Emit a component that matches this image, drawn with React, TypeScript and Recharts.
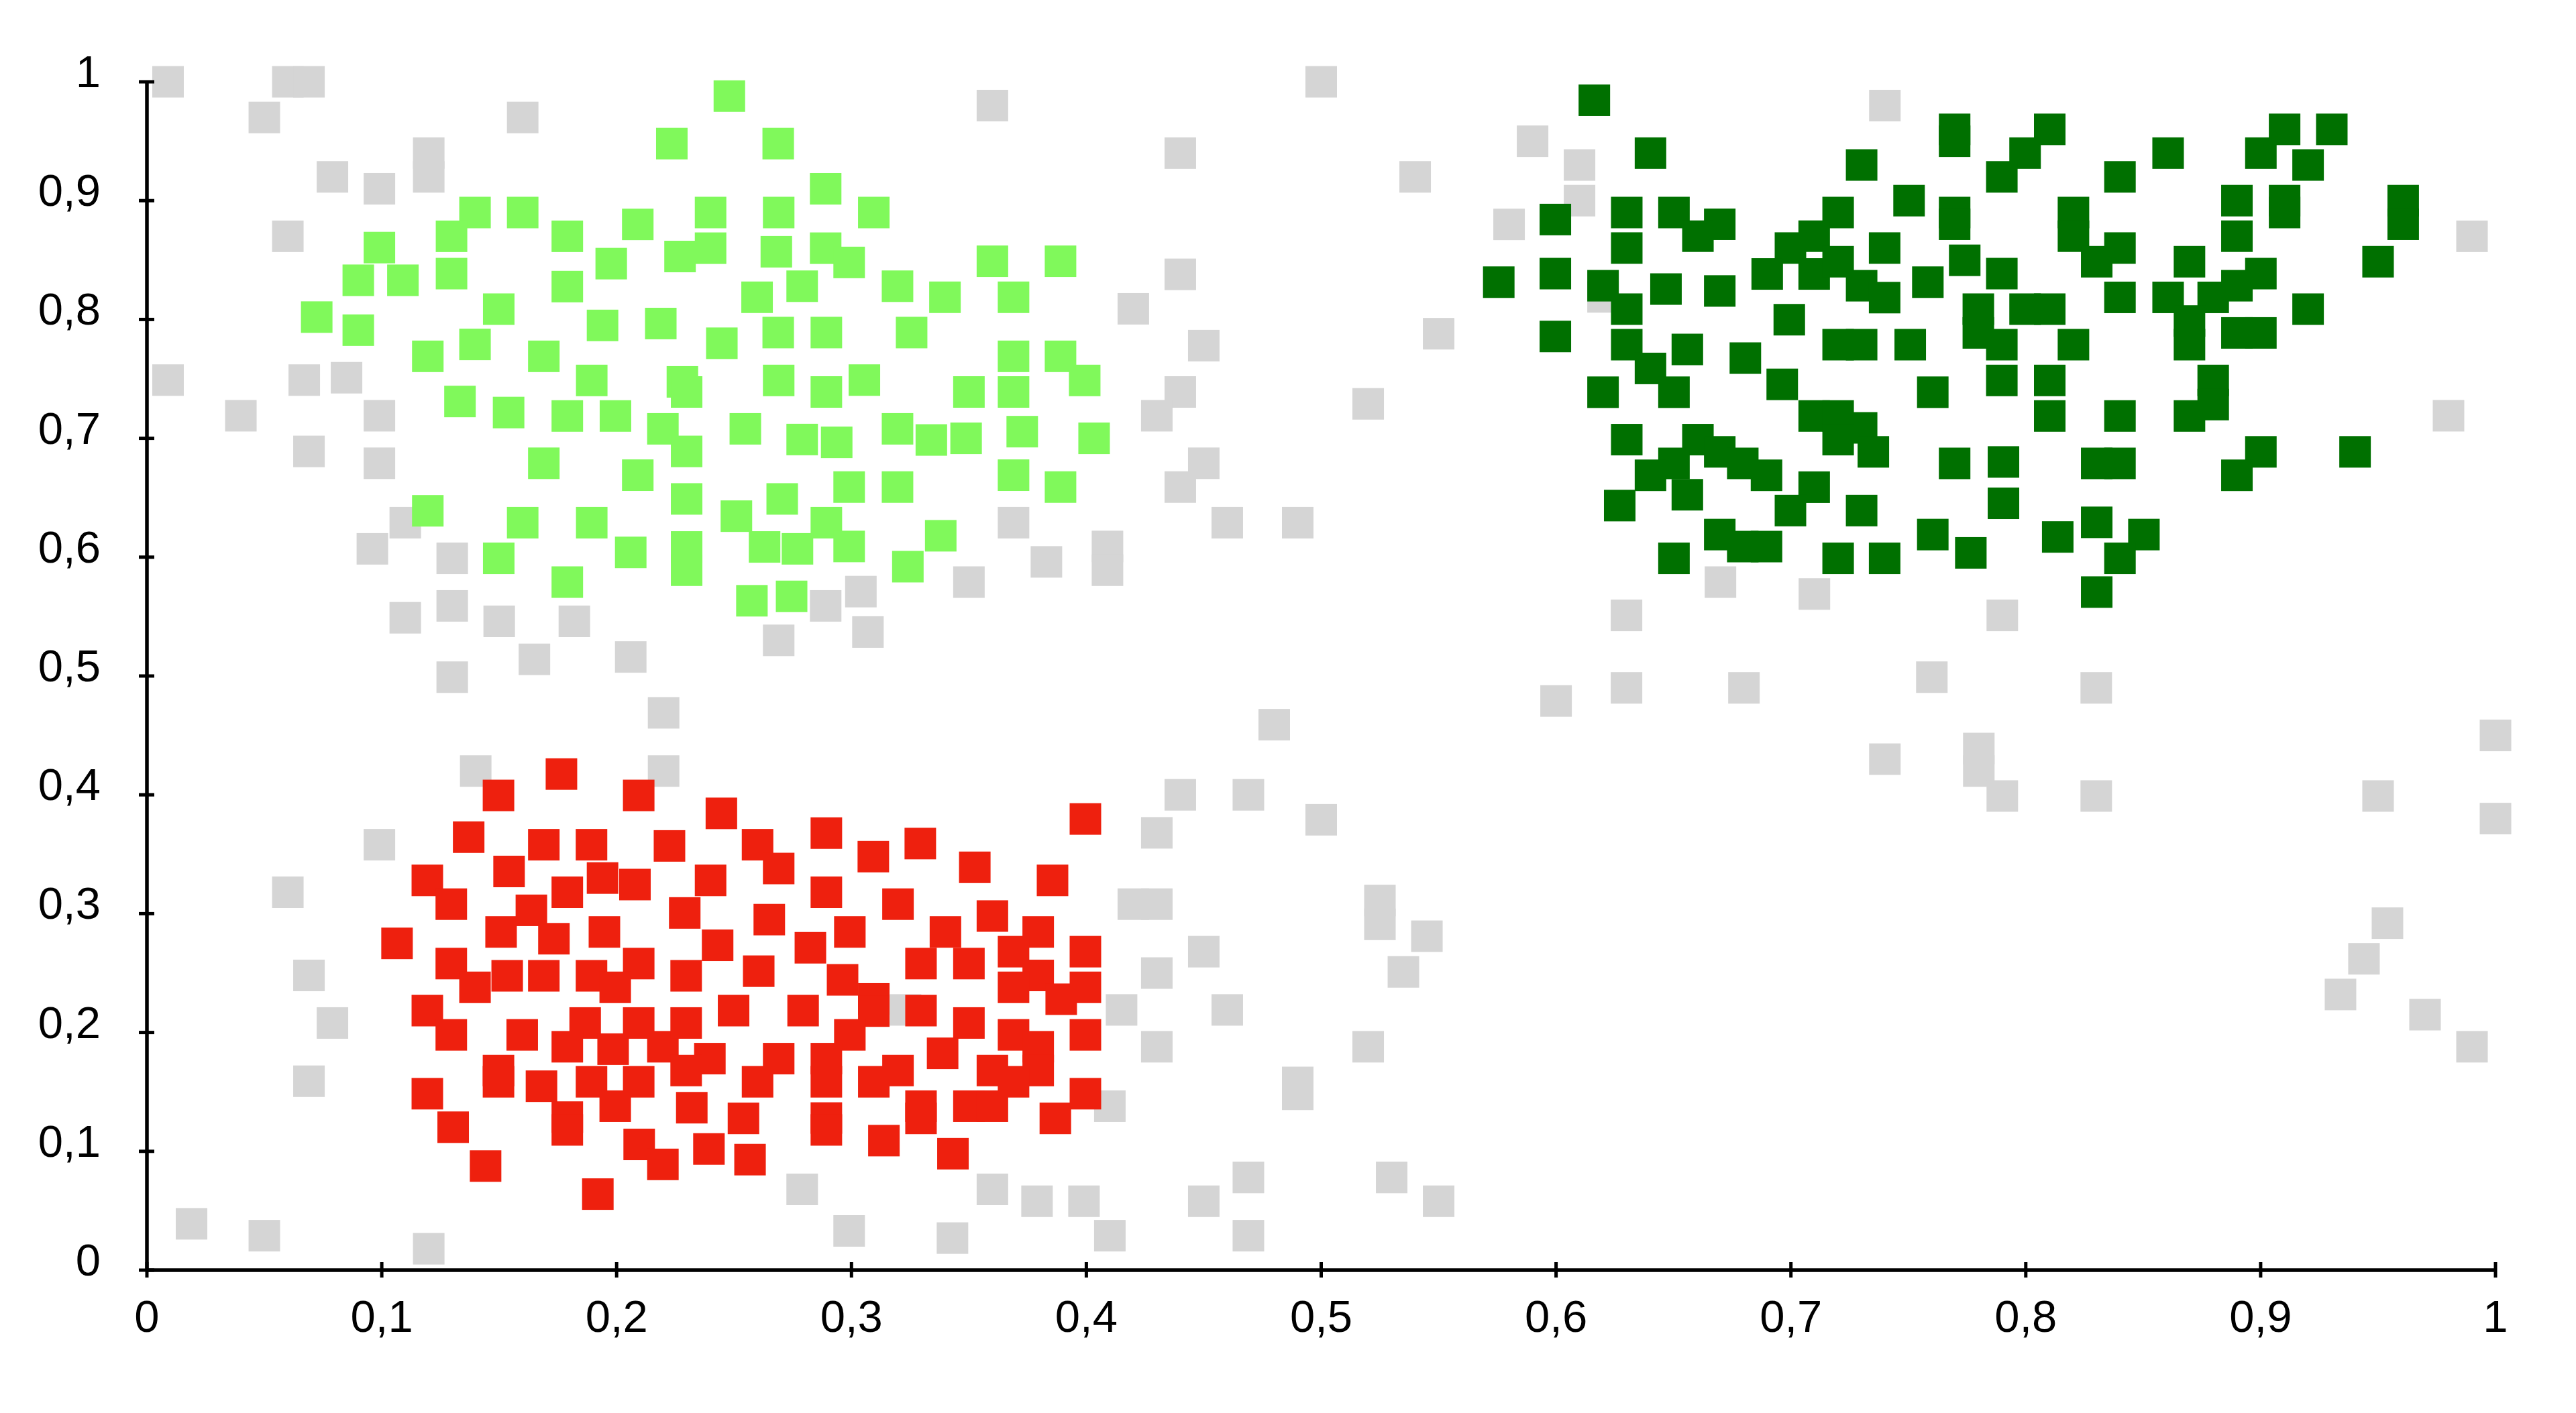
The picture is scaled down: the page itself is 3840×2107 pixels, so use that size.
import React from "react"
import { ScatterChart, Scatter, XAxis, YAxis } from "recharts"

// tick values, shared by both axes
const ticks = [0, 0.1, 0.2, 0.3, 0.4, 0.5, 0.6, 0.7, 0.8, 0.9, 1]

// [x, y] pairs
const greyPoints: [number, number][] = [
  [0.009, 1.0], [0.06, 1.0], [0.069, 1.0], [0.05, 0.97], [0.16, 0.97], [0.079, 0.92], [0.099, 0.91],
  [0.12, 0.94], [0.12, 0.92], [0.06, 0.87], [0.009, 0.749], [0.04, 0.719], [0.067, 0.749], [0.085, 0.751],
  [0.099, 0.719], [0.069, 0.689], [0.099, 0.679], [0.11, 0.629], [0.096, 0.607], [0.13, 0.599], [0.11, 0.549],
  [0.13, 0.559], [0.13, 0.499], [0.15, 0.546], [0.182, 0.546], [0.165, 0.514], [0.206, 0.516], [0.22, 0.469],
  [0.269, 0.53], [0.289, 0.559], [0.304, 0.571], [0.307, 0.537], [0.35, 0.579], [0.369, 0.629], [0.383, 0.596],
  [0.409, 0.609], [0.409, 0.589], [0.36, 0.98], [0.42, 0.809], [0.44, 0.94], [0.44, 0.838], [0.45, 0.778],
  [0.44, 0.739], [0.43, 0.719], [0.45, 0.679], [0.44, 0.659], [0.46, 0.629], [0.49, 0.629], [0.5, 1.0],
  [0.54, 0.92], [0.58, 0.88], [0.59, 0.95], [0.61, 0.93], [0.61, 0.9], [0.55, 0.788], [0.52, 0.729],
  [0.62, 0.819], [0.74, 0.98], [0.67, 0.579], [0.71, 0.569], [0.63, 0.551], [0.79, 0.551], [0.99, 0.87],
  [0.98, 0.719],
  [0.6, 0.479], [0.63, 0.49], [0.68, 0.49], [0.76, 0.499], [0.83, 0.49], [1.0, 0.45], [0.74, 0.43],
  [0.78, 0.439], [0.78, 0.42], [0.79, 0.399], [0.83, 0.399], [0.95, 0.399], [1.0, 0.38], [0.954, 0.292],
  [0.944, 0.262], [0.934, 0.232], [0.97, 0.215], [0.99, 0.188],
  [0.48, 0.459], [0.44, 0.4], [0.469, 0.4], [0.43, 0.368], [0.5, 0.379], [0.42, 0.308], [0.43, 0.308],
  [0.525, 0.311], [0.525, 0.291], [0.545, 0.281], [0.535, 0.251], [0.45, 0.268], [0.43, 0.25], [0.415, 0.219],
  [0.46, 0.219], [0.43, 0.188], [0.52, 0.188], [0.49, 0.158], [0.49, 0.148], [0.41, 0.138], [0.469, 0.078],
  [0.45, 0.058], [0.469, 0.029], [0.41, 0.029], [0.53, 0.078], [0.55, 0.058],
  [0.14, 0.42], [0.22, 0.42], [0.099, 0.358], [0.06, 0.318], [0.069, 0.248], [0.079, 0.208], [0.069, 0.159],
  [0.019, 0.039], [0.05, 0.029], [0.12, 0.018], [0.279, 0.068], [0.299, 0.033], [0.343, 0.027], [0.36, 0.068],
  [0.379, 0.058], [0.399, 0.058], [0.323, 0.219],
]

const lightGreenPoints: [number, number][] = [
  [0.248, 0.988], [0.2235, 0.948], [0.2688, 0.948], [0.289, 0.91], [0.1397, 0.89], [0.16, 0.89], [0.24, 0.89],
  [0.269, 0.89], [0.3095, 0.89], [0.209, 0.88], [0.1297, 0.87], [0.179, 0.87], [0.099, 0.8605], [0.24, 0.86],
  [0.227, 0.853], [0.268, 0.857], [0.289, 0.86], [0.299, 0.848], [0.1977, 0.847], [0.36, 0.849], [0.389, 0.849],
  [0.09, 0.833], [0.109, 0.833], [0.1297, 0.8386], [0.179, 0.8277], [0.2598, 0.8187], [0.279, 0.828],
  [0.3196, 0.828], [0.3398, 0.8187], [0.369, 0.8187], [0.0723, 0.802], [0.1498, 0.8087], [0.09, 0.791],
  [0.194, 0.795], [0.2188, 0.7966], [0.2688, 0.789], [0.2893, 0.789], [0.2448, 0.78], [0.3256, 0.789],
  [0.1196, 0.769], [0.1397, 0.779], [0.169, 0.769], [0.369, 0.769], [0.389, 0.769], [0.3993, 0.7487],
  [0.1894, 0.7487], [0.228, 0.7475], [0.2298, 0.739], [0.269, 0.7487], [0.2893, 0.739], [0.3055, 0.749],
  [0.35, 0.739], [0.369, 0.739], [0.1333, 0.731], [0.154, 0.7217], [0.179, 0.7188], [0.1995, 0.7188],
  [0.2197, 0.708], [0.2298, 0.689], [0.2548, 0.708], [0.279, 0.699], [0.2937, 0.6966], [0.3196, 0.708],
  [0.334, 0.6986], [0.3488, 0.7], [0.3727, 0.7056], [0.4033, 0.7], [0.169, 0.679], [0.209, 0.669],
  [0.2298, 0.649], [0.299, 0.659], [0.3196, 0.659], [0.369, 0.669], [0.389, 0.659], [0.2705, 0.649],
  [0.1196, 0.639], [0.251, 0.6345], [0.16, 0.629], [0.1894, 0.629], [0.2893, 0.629], [0.299, 0.609],
  [0.338, 0.618], [0.1498, 0.599], [0.206, 0.604], [0.2298, 0.6086], [0.2298, 0.589], [0.263, 0.6086],
  [0.277, 0.607], [0.324, 0.592], [0.179, 0.579], [0.2576, 0.5633], [0.2745, 0.567],
]

const redPoints: [number, number][] = [
  [0.1765, 0.4175], [0.1497, 0.3995], [0.2094, 0.3995], [0.2446, 0.3844], [0.3996, 0.3797], [0.137, 0.3644],
  [0.169, 0.358], [0.1893, 0.358], [0.2225, 0.357], [0.26, 0.358], [0.269, 0.338], [0.2893, 0.3678],
  [0.3093, 0.348], [0.3293, 0.359], [0.3525, 0.339], [0.3856, 0.328], [0.1542, 0.3355], [0.1194, 0.328],
  [0.1296, 0.308], [0.179, 0.318], [0.194, 0.33], [0.2078, 0.3245], [0.24, 0.328], [0.2893, 0.318],
  [0.229, 0.3006], [0.3198, 0.308], [0.36, 0.298], [0.265, 0.295], [0.1637, 0.3028], [0.1508, 0.2846],
  [0.1733, 0.2789], [0.1948, 0.2846], [0.2993, 0.2846], [0.34, 0.2846], [0.3795, 0.2846], [0.369, 0.268],
  [0.1065, 0.275], [0.243, 0.2734], [0.2825, 0.2713], [0.3996, 0.268], [0.1296, 0.258], [0.1397, 0.238],
  [0.1534, 0.2477], [0.169, 0.2477], [0.1893, 0.2477], [0.2094, 0.258], [0.1994, 0.238], [0.2296, 0.2477],
  [0.2605, 0.2516], [0.2962, 0.2443], [0.3095, 0.2283], [0.3095, 0.218], [0.2993, 0.198], [0.2893, 0.178],
  [0.2893, 0.1585], [0.2893, 0.128], [0.2893, 0.118], [0.3296, 0.258], [0.35, 0.258], [0.3795, 0.248],
  [0.3893, 0.228], [0.3996, 0.238], [0.369, 0.238], [0.3996, 0.198], [0.2498, 0.2184], [0.2794, 0.2184],
  [0.3296, 0.2184], [0.1194, 0.2184], [0.1296, 0.198], [0.1598, 0.198], [0.1866, 0.208], [0.179, 0.188],
  [0.1985, 0.186], [0.2094, 0.208], [0.2197, 0.188], [0.2296, 0.208], [0.2397, 0.178], [0.2296, 0.168],
  [0.269, 0.178], [0.26, 0.1585], [0.3198, 0.168], [0.3095, 0.1585], [0.35, 0.208], [0.3388, 0.1825],
  [0.369, 0.198], [0.3795, 0.188], [0.3795, 0.168], [0.36, 0.168], [0.369, 0.1585], [0.35, 0.138],
  [0.36, 0.138], [0.3996, 0.1485], [0.3868, 0.1277], [0.1194, 0.1485], [0.1304, 0.1203], [0.1497, 0.168],
  [0.1497, 0.1585], [0.168, 0.1548], [0.179, 0.1288], [0.179, 0.118], [0.1893, 0.1585], [0.2094, 0.1585],
  [0.1994, 0.138], [0.232, 0.1367], [0.254, 0.1277], [0.3296, 0.138], [0.3296, 0.1277], [0.3138, 0.109],
  [0.3432, 0.098], [0.2096, 0.1058], [0.2197, 0.089], [0.2393, 0.102], [0.2568, 0.093], [0.1442, 0.0876],
  [0.192, 0.064],
]

const darkGreenPoints: [number, number][] = [
  [0.6163, 0.9845], [0.7697, 0.96], [0.7697, 0.95], [0.8102, 0.96], [0.7997, 0.94], [0.7898, 0.92],
  [0.6402, 0.94], [0.7301, 0.93], [0.8606, 0.94], [0.8401, 0.92], [0.9102, 0.96], [0.9001, 0.94],
  [0.9303, 0.96], [0.9202, 0.93], [0.7503, 0.9], [0.5997, 0.8841], [0.6301, 0.89], [0.6502, 0.89],
  [0.6697, 0.8801], [0.6604, 0.8701], [0.7201, 0.89], [0.7099, 0.8701], [0.6998, 0.8601], [0.6899, 0.8383],
  [0.7099, 0.8383], [0.7201, 0.8486], [0.7301, 0.8284], [0.7399, 0.8184], [0.7399, 0.8601], [0.7697, 0.89],
  [0.7697, 0.8801], [0.8203, 0.89], [0.8203, 0.8701], [0.8302, 0.8486], [0.8401, 0.8601], [0.8899, 0.9],
  [0.8899, 0.8701], [0.9102, 0.9], [0.9102, 0.89], [0.9607, 0.9], [0.9607, 0.8801], [0.5997, 0.8386],
  [0.6301, 0.8601], [0.5756, 0.8314], [0.62, 0.8284], [0.6301, 0.8087], [0.6468, 0.8256], [0.6697, 0.824],
  [0.774, 0.8498], [0.7898, 0.8386], [0.7583, 0.8314], [0.8697, 0.8486], [0.95, 0.8486], [0.8401, 0.8186],
  [0.9001, 0.8386], [0.8899, 0.8284], [0.8798, 0.8186], [0.8606, 0.8186], [0.8697, 0.7987], [0.8697, 0.7788],
  [0.8899, 0.7887], [0.9001, 0.7887], [0.9202, 0.8087], [0.6993, 0.7998], [0.7798, 0.8087], [0.7798, 0.7887],
  [0.7898, 0.7788], [0.7997, 0.8087], [0.8102, 0.8087], [0.5997, 0.7857], [0.6301, 0.7788], [0.6402, 0.7588],
  [0.6502, 0.7388], [0.6559, 0.7748], [0.6806, 0.7675], [0.7201, 0.7788], [0.7301, 0.7788], [0.7508, 0.7788],
  [0.8203, 0.7788], [0.62, 0.7388], [0.6963, 0.7454], [0.7604, 0.7388], [0.7898, 0.7487], [0.8102, 0.7487],
  [0.8798, 0.7487], [0.8798, 0.7284], [0.8697, 0.7188], [0.7099, 0.7188], [0.7201, 0.7188], [0.7301, 0.7088],
  [0.7201, 0.6989], [0.7351, 0.6886], [0.8102, 0.7188], [0.8401, 0.7188], [0.6301, 0.6989], [0.6604, 0.6989],
  [0.6697, 0.6886], [0.6795, 0.6789], [0.6896, 0.6689], [0.6502, 0.6789], [0.6402, 0.6689], [0.6559, 0.6525],
  [0.6271, 0.6434], [0.7697, 0.6789], [0.7905, 0.6801], [0.8302, 0.6789], [0.8401, 0.6789], [0.9001, 0.6886],
  [0.8899, 0.6689], [0.9402, 0.6886], [0.7099, 0.6589], [0.6998, 0.6392], [0.7301, 0.6392], [0.7905, 0.6453],
  [0.8302, 0.6293], [0.8503, 0.619], [0.8401, 0.599], [0.8136, 0.617], [0.7604, 0.619], [0.7766, 0.6036],
  [0.6697, 0.619], [0.6795, 0.6089], [0.6896, 0.6089], [0.6502, 0.599], [0.7201, 0.599], [0.7399, 0.599],
  [0.8302, 0.5706],
]

const toData = (pts: [number, number][]) => pts.map(([x, y]) => ({ x, y }))

const fmt = (v: number) => String(v).replace(".", ",")

const FONT = "'Liberation Sans', Arial, Helvetica, sans-serif"

const square = (color: string) => (props: any) => {
  const { cx, cy } = props
  return <rect x={cx - 23.5} y={cy - 23.5} width={47} height={47} fill={color} />
}

const YTick = ({ x, y, payload }: any) => (
  <g>
    <line x1={x - 12} x2={x + 11} y1={y} y2={y} stroke="#000" strokeWidth={5} />
    <text x={x - 69} y={y + 8} textAnchor="end" fontSize={67} fontFamily={FONT} fill="#000">
      {fmt(payload.value)}
    </text>
  </g>
)

const XTick = ({ x, y, payload }: any) => (
  <g>
    <line x1={x} x2={x} y1={y - 12} y2={y + 11} stroke="#000" strokeWidth={5} />
    <text x={x} y={y + 92} textAnchor="middle" fontSize={67} fontFamily={FONT} fill="#000">
      {fmt(payload.value)}
    </text>
  </g>
)

export default function App() {
  return (
    <div style={{ position: "absolute", left: 0, top: 0, width: 3840, height: 2107, background: "#fff" }}>
      <ScatterChart width={3840} height={2107} margin={{ top: 122, right: 120, bottom: 93, left: 69 }}>
        <XAxis
          type="number"
          dataKey="x"
          domain={[0, 1]}
          ticks={ticks}
          interval={0}
          height={120}
          tickSize={0}
          tickMargin={0}
          tickLine={false}
          axisLine={{ stroke: "#000", strokeWidth: 5.5 }}
          tick={<XTick />}
        />
        <YAxis
          type="number"
          dataKey="y"
          domain={[0, 1]}
          ticks={ticks}
          interval={0}
          width={150}
          tickSize={0}
          tickMargin={0}
          tickLine={false}
          axisLine={{ stroke: "#000", strokeWidth: 5.5 }}
          tick={<YTick />}
        />
        <Scatter data={toData(greyPoints)} fill="#d5d5d5" shape={square("#d5d5d5")} isAnimationActive={false} />
        <Scatter data={toData(lightGreenPoints)} fill="#80f95b" shape={square("#80f95b")} isAnimationActive={false} />
        <Scatter data={toData(redPoints)} fill="#ee200e" shape={square("#ee200e")} isAnimationActive={false} />
        <Scatter data={toData(darkGreenPoints)} fill="#007000" shape={square("#007000")} isAnimationActive={false} />
      </ScatterChart>
    </div>
  )
}
